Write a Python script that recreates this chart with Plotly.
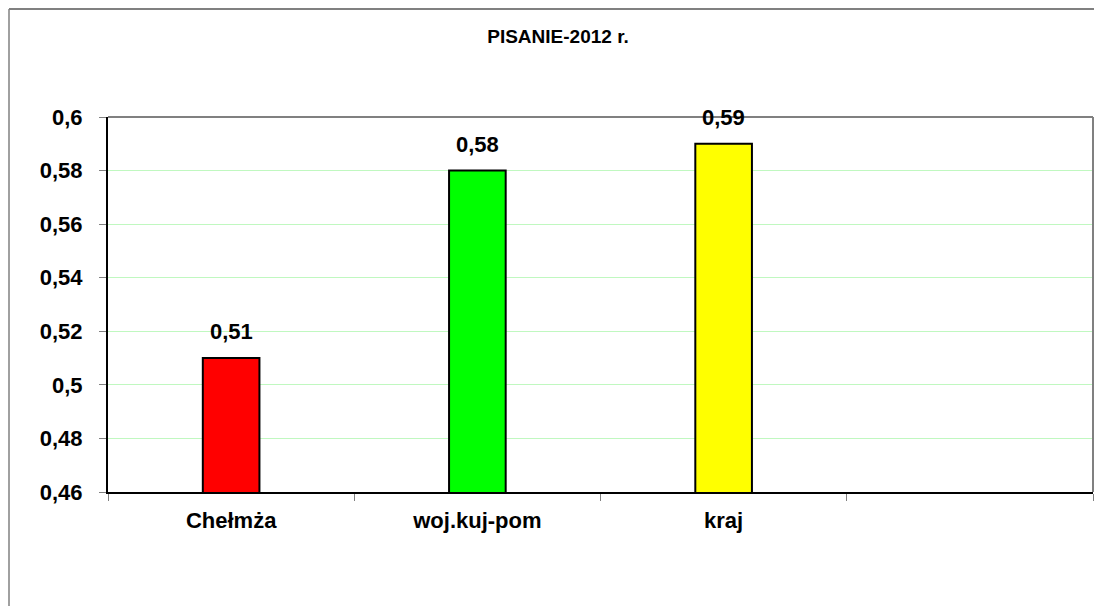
import plotly.graph_objects as go

categories = ["Chełmża", "woj.kuj-pom", "kraj"]
values = [0.51, 0.58, 0.59]
bar_colors = ["#ff0000", "#00ff00", "#ffff00"]
extra_category = [" "]  # empty fourth slot on the category axis
title_text = "PISANIE-2012 r."
y_range = [0.46, 0.6]
y_step = 0.02

W, H = 1102, 606
OFF = 8  # page body margin
# target plot area in page pixels: x 108..1093, y 117..492
ML = 108 - OFF
MT = 117 - OFF
MR = W - (1093 - OFF)
MB = H - (492 - OFF)
pw, ph = W - ML - MR, H - MT - MB

FONT = "Arial, Liberation Sans, sans-serif"

fig = go.Figure()
fig.add_trace(go.Bar(
    x=categories, y=values,
    marker=dict(color=bar_colors, line=dict(color="#000000", width=2)),
    width=0.23,
    hoverinfo="skip",
))

for c, v in zip(categories, values):
    fig.add_annotation(
        x=c, y=v, xref="x", yref="y",
        text="<b>" + ("%.2f" % v).replace(".", ",") + "</b>",
        showarrow=False, yanchor="bottom", yshift=12,
        font=dict(family=FONT, size=22, color="#000000"),
    )

def px_x(p):
    return (p - 108) / pw

def px_y(p):
    return (492 - p) / ph

shapes = [
    dict(type="line", xref="paper", yref="paper", x0=0, x1=1, y0=1, y1=1,
         line=dict(color="#808080", width=2)),
    dict(type="line", xref="paper", yref="paper", x0=1, x1=1, y0=0, y1=1,
         line=dict(color="#808080", width=2)),
    dict(type="line", xref="paper", yref="paper", x0=px_x(9), x1=px_x(9),
         y0=px_y(9), y1=px_y(640), line=dict(color="#a0a0a0", width=2)),
    dict(type="line", xref="paper", yref="paper", x0=px_x(9), x1=px_x(1130),
         y0=px_y(9), y1=px_y(9), line=dict(color="#808080", width=2)),
]

fig.update_layout(
    width=W, height=H,
    margin=dict(l=ML, r=MR, t=MT, b=MB, pad=0),
    paper_bgcolor="#ffffff", plot_bgcolor="#ffffff",
    separators=", ",
    showlegend=False,
    shapes=shapes,
    title=dict(text="<b>" + title_text + "</b>", x=px_x(558), xanchor="center",
               xref="paper", y=1 - (36 - OFF) / H, yanchor="middle",
               font=dict(family=FONT, size=19, color="#000000")),
    bargap=0.77,
)

fig.update_xaxes(
    type="category",
    categoryorder="array", categoryarray=categories + extra_category,
    range=[-0.5, len(categories) + len(extra_category) - 0.5],
    showgrid=False, zeroline=False,
    showline=True, linecolor="#000000", linewidth=2,
    ticks="outside", tickson="boundaries", ticklen=7, tickcolor="#808080", tickwidth=1,
    tickfont=dict(family=FONT, size=22, color="#000000", weight="bold"),
    ticklabelstandoff=8,
)
fig.update_yaxes(
    range=y_range, dtick=y_step, tick0=y_range[0],
    tickformat=",.2~f",
    showgrid=True, gridcolor="#c0f8c0", gridwidth=1,
    zeroline=False,
    showline=True, linecolor="#000000", linewidth=2,
    ticks="outside", ticklen=7, tickcolor="#808080", tickwidth=1,
    tickfont=dict(family=FONT, size=22, color="#000000", weight="bold"),
    ticklabelstandoff=12,
)

fig.write_html("out.html")
